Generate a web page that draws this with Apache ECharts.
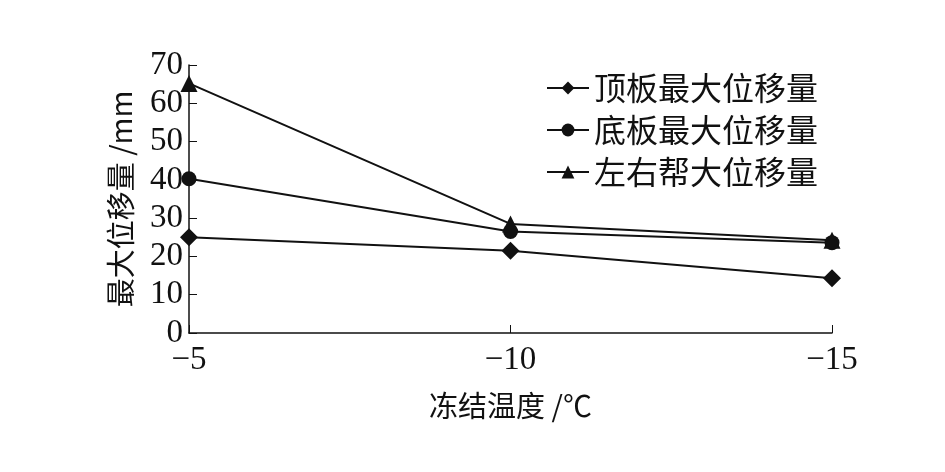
<!DOCTYPE html>
<html><head><meta charset="utf-8">
<script src="https://cdn.jsdelivr.net/npm/echarts@6/dist/echarts.min.js"></script>
<style>html,body{margin:0;padding:0;background:#fff}#c{width:945px;height:472px}</style>
</head><body><div id="c"></div>
<script>
const categories = ['−5', '−10', '−15'];
const roofMax = [25.0, 21.5, 14.3];
const floorMax = [40.3, 26.5, 23.6];
const sideMax = [65.2, 28.5, 24.2];
const seriesNames = ['顶板最大位移量', '底板最大位移量', '左右帮大位移量'];
const yTicks = { min: 0, max: 70, interval: 10 };

const serif = '"Liberation Serif", "Noto Sans CJK SC", serif';
const cjk = '"Noto Sans CJK SC", serif';
const chart = echarts.init(document.getElementById('c'));
function mk(name, data, symbol, size) {
  return { name, type: 'line', data, symbol, symbolSize: size,
    lineStyle: { color: '#111', width: 2 }, itemStyle: { color: '#111' } };
}
chart.setOption({
  animation: false,
  grid: { left: 189, right: 113, top: 65, bottom: 139 },
  legend: {
    left: 541, top: 67, orient: 'vertical', itemWidth: 42, itemHeight: 16, itemGap: 10,
    textStyle: { fontFamily: cjk, fontSize: 32, color: '#111' },
    data: seriesNames
  },
  xAxis: {
    type: 'category', data: categories, boundaryGap: false,
    name: '冻结温度 /℃', nameLocation: 'middle', nameGap: 58,
    nameTextStyle: { fontFamily: cjk, fontSize: 29, color: '#111' },
    axisLine: { lineStyle: { color: '#111', width: 1.5 } },
    axisTick: { inside: true, length: 8, lineStyle: { color: '#111' } },
    axisLabel: { fontFamily: serif, fontSize: 33, color: '#111', margin: 11 }
  },
  yAxis: {
    type: 'value', min: yTicks.min, max: yTicks.max, interval: yTicks.interval,
    name: '最大位移量 /mm', nameLocation: 'middle', nameGap: 54, nameRotate: 90,
    nameTextStyle: { fontFamily: cjk, fontSize: 29, color: '#111' },
    axisLine: { show: true, lineStyle: { color: '#111', width: 1.5 } },
    axisTick: { show: true, inside: true, length: 8, lineStyle: { color: '#111' } },
    splitLine: { show: false },
    axisLabel: { fontFamily: serif, fontSize: 33, color: '#111', margin: 6 }
  },
  series: [
    mk(seriesNames[0], roofMax, 'diamond', 18),
    mk(seriesNames[1], floorMax, 'circle', 15),
    mk(seriesNames[2], sideMax, 'triangle', 17)
  ]
});
</script></body></html>
